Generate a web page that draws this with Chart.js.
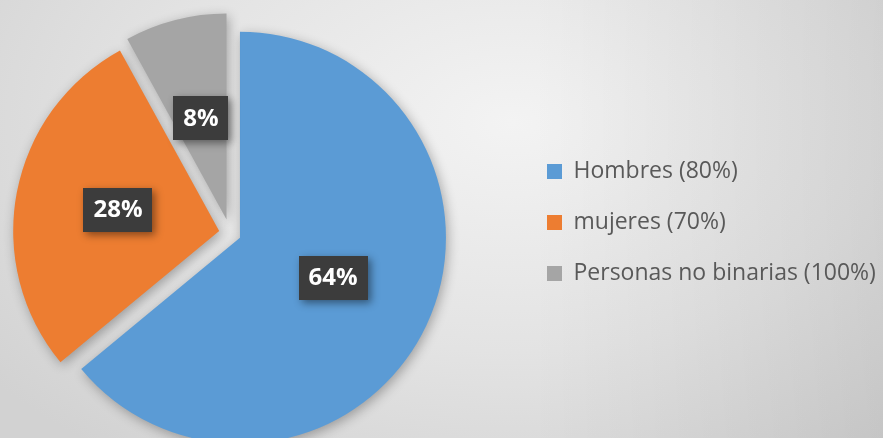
<!DOCTYPE html>
<html>
<head>
<meta charset="utf-8">
<script src="https://cdn.jsdelivr.net/npm/chart.js@4.4.0/dist/chart.umd.min.js"></script>
<style>
  html, body { margin: 0; padding: 0; width: 883px; height: 438px; overflow: hidden; }
  body {
    background:
      linear-gradient(to right, rgba(0,0,0,0) 60%, rgba(0,0,0,0.07) 100%),
      radial-gradient(ellipse 75% 95% at 58% 28%, #f3f3f3 0%, #e3e3e3 55%, #d2d2d2 100%);
  }
  canvas { display: block; }
</style>
</head>
<body>
<canvas id="c" width="883" height="438"></canvas>
<script>
// ---- data ----
const categories = ['Hombres (80%)', 'mujeres (70%)', 'Personas no binarias (100%)'];
const shares = [64, 28, 8];
const sliceColors = ['#5B9BD5', '#ED7D31', '#A5A5A5'];
const explode = [11, 11, 14];

const explodePlugin = {
  id: 'explodeDraw',
  beforeDatasetDraw(chart, args) {
    const ctx = chart.ctx;
    args.meta.data.forEach((arc, i) => {
      const mid = (arc.startAngle + arc.endAngle) / 2;
      const t = explode[i];
      ctx.save();
      ctx.shadowColor = 'rgba(0,0,0,0.30)';
      ctx.shadowBlur = 12;
      ctx.shadowOffsetX = 2;
      ctx.shadowOffsetY = 3;
      ctx.translate(Math.cos(mid) * t, Math.sin(mid) * t);
      arc.draw(ctx);
      ctx.restore();
    });
    return false;
  }
};

const labelShiftY = [-4, -2, -2];

const labelPlugin = {
  id: 'boxLabels',
  afterDatasetsDraw(chart) {
    const ctx = chart.ctx;
    const meta = chart.getDatasetMeta(0);
    meta.data.forEach((arc, i) => {
      const mid = (arc.startAngle + arc.endAngle) / 2;
      const t = explode[i];
      const p = arc.getCenterPoint();
      const x = p.x + Math.cos(mid) * t;
      const y = p.y + Math.sin(mid) * t + labelShiftY[i];
      const txt = shares[i] + '%';
      ctx.save();
      ctx.font = 'bold 24px "Open Sans"';
      const w = ctx.measureText(txt).width + 20;
      const h = 44;
      ctx.shadowColor = 'rgba(0,0,0,0.45)';
      ctx.shadowBlur = 8;
      ctx.shadowOffsetX = 3;
      ctx.shadowOffsetY = 3;
      ctx.fillStyle = '#3c3c3c';
      ctx.fillRect(Math.round(x - w / 2), Math.round(y - h / 2), Math.round(w), h);
      ctx.shadowColor = 'rgba(0,0,0,0)';
      ctx.fillStyle = '#ffffff';
      ctx.textAlign = 'center';
      ctx.textBaseline = 'middle';
      ctx.fillText(txt, x, y + 1);
      ctx.restore();
    });
  }
};

const legendPlace = {
  id: 'legendPlace',
  afterLayout(chart) {
    const lg = chart.legend;
    lg.left = 547 - 28;
    lg.right = chart.width;
    lg.width = lg.right - lg.left;
    lg.top = 132;
    lg.bottom = chart.height;
    lg.height = lg.bottom - lg.top;
  }
};

new Chart(document.getElementById('c'), {
  type: 'pie',
  data: {
    labels: categories,
    datasets: [{
      data: shares,
      backgroundColor: sliceColors,
      borderWidth: 0,
      clip: false
    }]
  },
  options: {
    responsive: false,
    animation: false,
    radius: 206,
    layout: { padding: { left: 0, top: 28, right: 223, bottom: 0 } },
    plugins: {
      tooltip: { enabled: false },
      legend: {
        position: 'right',
        align: 'start',
        maxWidth: 200,
        labels: {
          boxWidth: 15,
          boxHeight: 15,
          padding: 28,
          color: '#595959',
          font: { family: '"Open Sans"', size: 23 }
        }
      }
    }
  },
  plugins: [explodePlugin, labelPlugin, legendPlace]
});
</script>
</body>
</html>
